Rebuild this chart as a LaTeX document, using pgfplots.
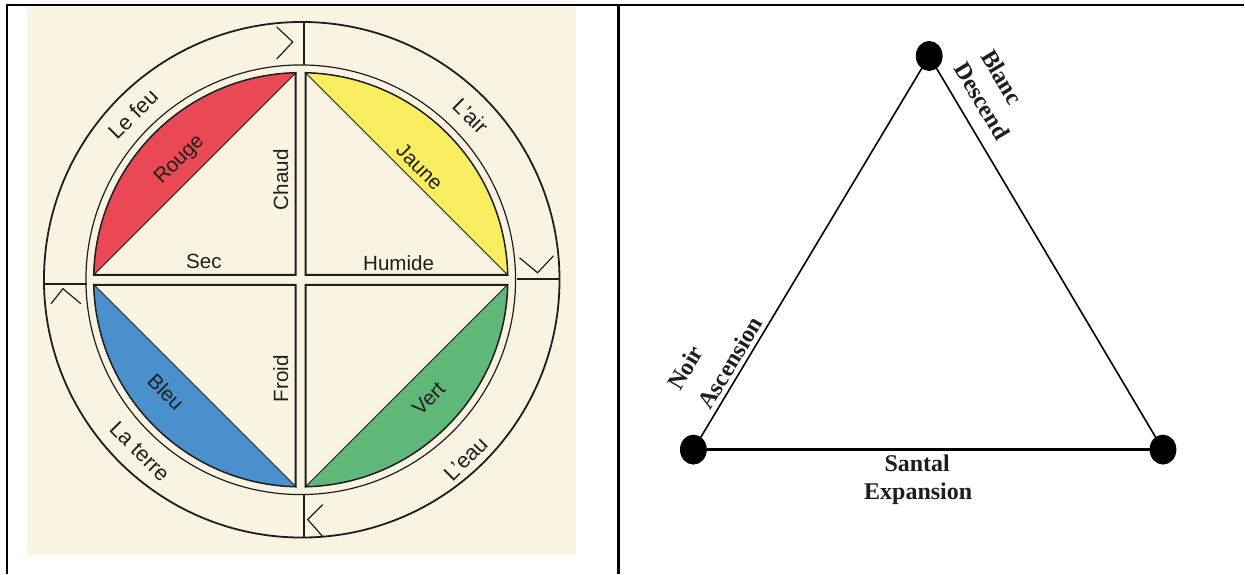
\documentclass[border=0pt]{standalone}
\usepackage{pgfplots}
\pgfplotsset{compat=1.18}
\usepackage{fontspec}
\setmainfont{Liberation Serif}
\newfontfamily\lsans{Liberation Sans}
\definecolor{cream}{RGB}{249,243,226}
\definecolor{rouge}{RGB}{233,72,84}
\definecolor{jaune}{RGB}{248,238,96}
\definecolor{bleu}{RGB}{74,144,204}
\definecolor{vert}{RGB}{96,183,122}
\definecolor{ink}{RGB}{30,30,30}
\begin{document}
\begin{tikzpicture}
\begin{axis}[width=622.5pt,height=287pt,scale only axis,
  xmin=0,xmax=1245,ymin=0,ymax=574,hide axis,clip=false]
\path[fill=white] (axis cs:0,0) rectangle (axis cs:1245,574);
\fill[cream] (axis cs:27,19) rectangle (axis cs:576,567);
% table borders
\addplot[black,line width=1.1pt] coordinates {(7,0)(7,569)(1245,569)};
\addplot[black,line width=1.1pt] coordinates {(619,0)(619,569)};
% circles
\draw[ink,line width=0.9pt] (axis cs:302,294) circle[radius=129pt];
\draw[ink,line width=0.6pt] (axis cs:301,294) circle[radius=107.5pt];
% quadrants
\draw[ink,line width=1pt,fill=cream] (axis cs:296,299) -- (axis cs:296,500.94) arc[start angle=91.384,end angle=178.616,radius=103.5pt] -- cycle;
\draw[ink,line width=1pt,fill=cream] (axis cs:306,299) -- (axis cs:306,500.94) arc[start angle=88.616,end angle=1.384,radius=103.5pt] -- cycle;
\draw[ink,line width=1pt,fill=cream] (axis cs:296,289) -- (axis cs:94.06,289) arc[start angle=181.384,end angle=268.616,radius=103.5pt] -- cycle;
\draw[ink,line width=1pt,fill=cream] (axis cs:306,289) -- (axis cs:306,87.06) arc[start angle=271.384,end angle=358.616,radius=103.5pt] -- cycle;
% coloured segments
\draw[ink,line width=0.5pt,fill=rouge] (axis cs:296,500.94) arc[start angle=91.384,end angle=178.616,radius=103.5pt] -- cycle;
\draw[ink,line width=0.5pt,fill=jaune] (axis cs:306,500.94) arc[start angle=88.616,end angle=1.384,radius=103.5pt] -- cycle;
\draw[ink,line width=0.5pt,fill=bleu] (axis cs:94.06,289) arc[start angle=181.384,end angle=268.616,radius=103.5pt] -- cycle;
\draw[ink,line width=0.5pt,fill=vert] (axis cs:306,87.06) arc[start angle=271.384,end angle=358.616,radius=103.5pt] -- cycle;
% ring dividers
\addplot[ink,line width=0.8pt] coordinates {(304,509)(304,552)};
\addplot[ink,line width=0.8pt] coordinates {(304,79)(304,36)};
\addplot[ink,line width=0.8pt] coordinates {(44,290)(87,290)};
\addplot[ink,line width=0.8pt] coordinates {(517,295)(560,295)};
% chevrons
\addplot[ink,line width=0.6pt] coordinates {(277,547)(293,532)(277,515)};
\addplot[ink,line width=0.6pt] coordinates {(520,316)(538,301)(554,318)};
\addplot[ink,line width=0.6pt] coordinates {(51,270)(63,285)(81,270)};
\addplot[ink,line width=0.6pt] coordinates {(323,69)(308,54)(323,37)};
% left labels
\begin{scope}[every node/.style={font=\lsans\fontsize{10.3}{12}\selectfont,text=ink,inner sep=0pt}]
\node[rotate=45] at (axis cs:180,414) {Rouge};
\node[rotate=-45] at (axis cs:420,407) {Jaune};
\node[rotate=-45] at (axis cs:166,182) {Bleu};
\node[rotate=45] at (axis cs:429,175) {Vert};
\node[rotate=90] at (axis cs:281,394) {Chaud};
\node[rotate=90] at (axis cs:281,195) {Froid};
\node at (axis cs:204,312) {Sec};
\node at (axis cs:399,311) {Humide};
\end{scope}
\begin{scope}[every node/.style={font=\lsans\fontsize{10.8}{12}\selectfont,text=ink,inner sep=0pt}]
\node[rotate=45] at (axis cs:133,460) {Le feu};
\node[rotate=-45] at (axis cs:471,458) {L’air};
\node[rotate=-45] at (axis cs:140,122) {La terre};
\node[rotate=45] at (axis cs:466,115) {L’eau};
\end{scope}
% triangle
\addplot[black,line width=0.8pt] coordinates {(694,124)(930,518)(1164,124)};
\addplot[black,line width=1.2pt] coordinates {(694,124)(1164,124)};
\addplot[only marks,mark=*,mark size=6.5pt,black,mark options={yscale=1.12}] coordinates {(930,518)(694,124)(1164,124)};
\begin{scope}[every node/.style={font=\bfseries\fontsize{12}{14}\selectfont,text=ink,inner sep=0pt}]
\node[rotate=-59] at (axis cs:1003,497) {Blanc};
\node[rotate=-59] at (axis cs:983,473) {Descend};
\node[rotate=59] at (axis cs:686,206) {Noir};
\node[rotate=59] at (axis cs:731,211) {Ascension};
\node at (axis cs:918,110) {Santal};
\node at (axis cs:919,80) {Expansion};
\end{scope}
\end{axis}
\end{tikzpicture}
\end{document}
